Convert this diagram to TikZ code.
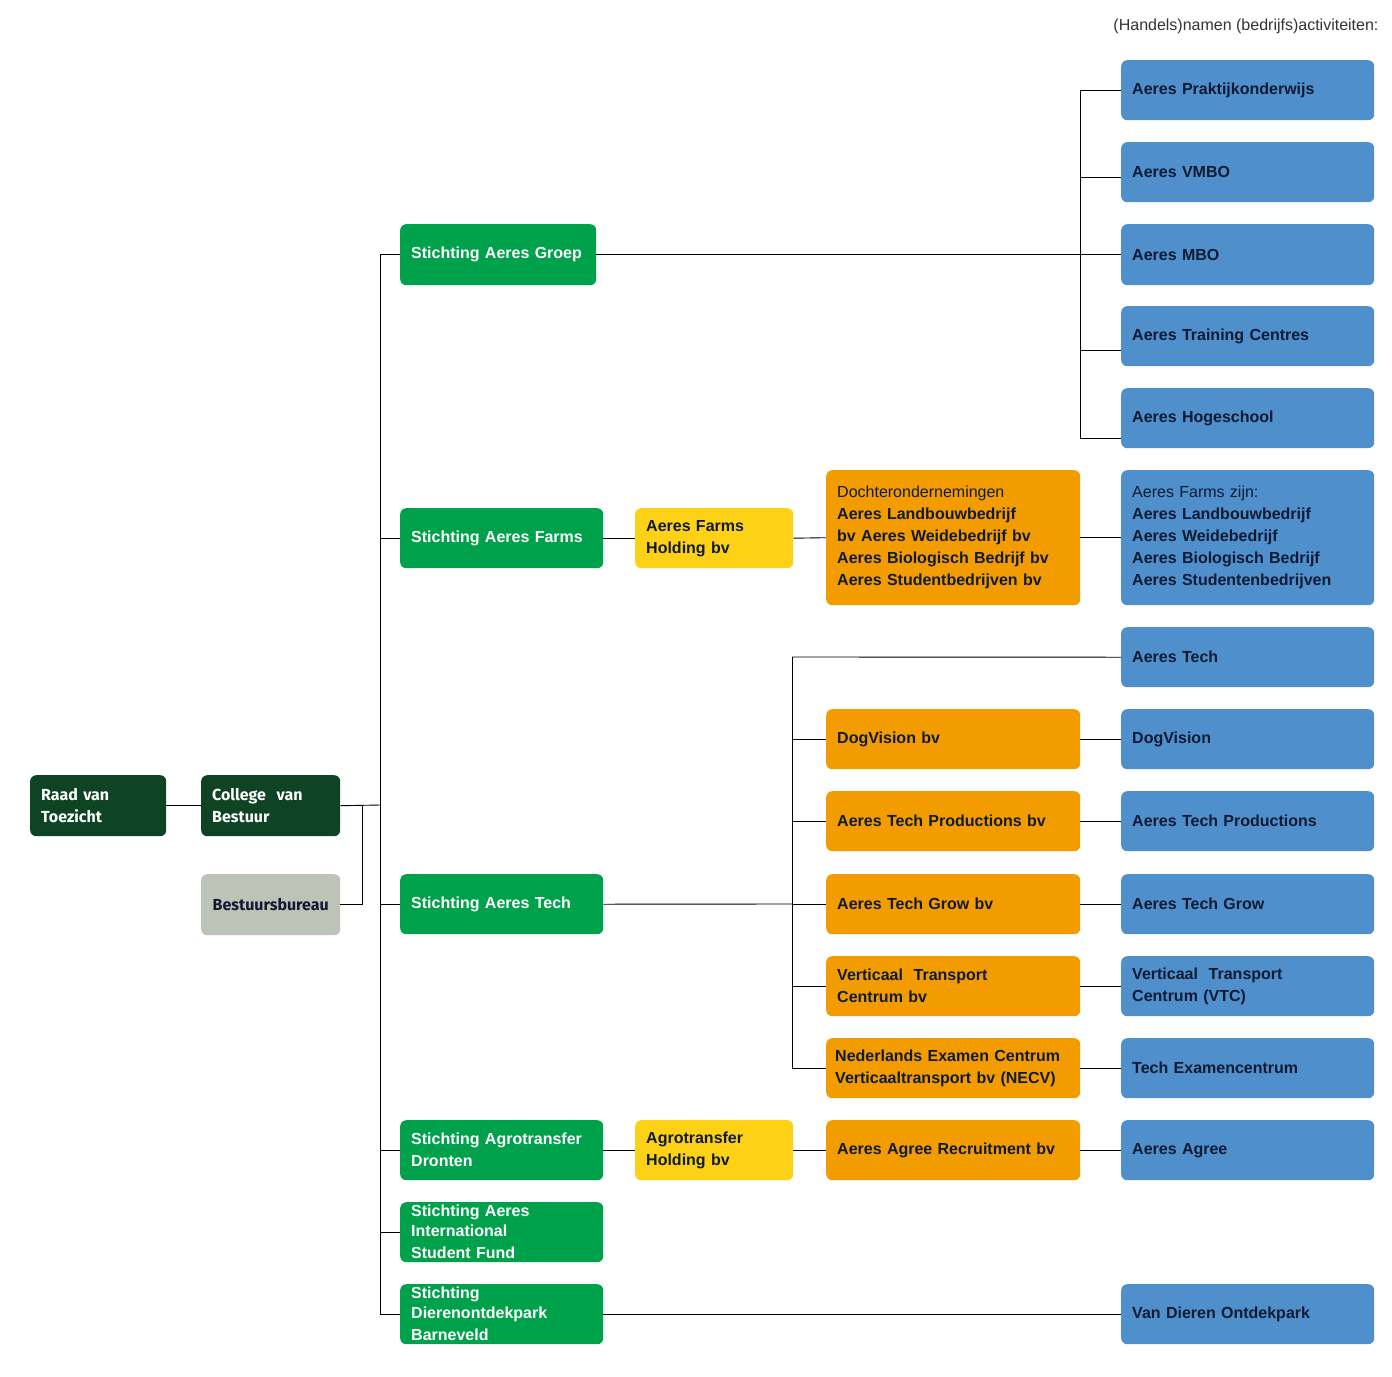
\documentclass[tikz,border=0pt]{standalone}
\usepackage{fontspec}
\setmainfont{Liberation Sans}
\newfontfamily\gfont{Fira Sans}
\definecolor{dg}{HTML}{0E4424}
\definecolor{gr}{HTML}{00A14B}
\definecolor{ye}{HTML}{FCD116}
\definecolor{or}{HTML}{F39C00}
\definecolor{bl}{HTML}{4F8FCB}
\definecolor{gy}{HTML}{BDC3B7}
\definecolor{tx}{HTML}{111A33}
\newcommand{\bx}[7]{%
 \pgfmathsetmacro{\ww}{#5-#3}\pgfmathsetmacro{\hh}{#6-#4}\pgfmathsetmacro{\tw}{#5-#3-22}%
 \node[box,fill=#2,minimum width=\ww pt,minimum height=\hh pt,text width=\tw pt,anchor=north west] (#1) at (#3,#4) {#7};}
\begin{document}
\begin{tikzpicture}[x=1pt,y=-1pt,
 box/.style={rounded corners=6pt,inner xsep=11pt,inner ysep=0pt,align=left,font=\fontsize{16}{22}\selectfont\bfseries,text=tx},
 ln/.style={draw=black,line width=0.9pt}]
\useasboundingbox (0,0) rectangle (1392,1376);
\node[anchor=east,font=\fontsize{16}{18}\selectfont,text=black!80] (hdr) at (1382,26) {(Handels)namen (bedrijfs)activiteiten:};
% left
\bx{raad}{dg}{30}{775}{166}{836}{\gfont\color{white}Raad van\\Toezicht}
\bx{cvb}{dg}{201}{775}{340}{836}{\gfont\color{white}College\ \ van\\Bestuur}
\node[box,fill=gy,minimum width=139pt,minimum height=61pt,anchor=north west,inner xsep=4pt] (bb) at (201,874) {\gfont Bestuursbureau};
% green
\bx{sg}{gr}{400}{224}{596}{285}{\color{white}Stichting Aeres Groep}
\bx{sf}{gr}{400}{508}{603}{568}{\color{white}Stichting Aeres Farms}
\bx{st}{gr}{400}{874}{603}{934}{\color{white}Stichting Aeres Tech}
\bx{sa}{gr}{400}{1120}{603}{1180}{\color{white}Stichting Agrotransfer\\Dronten}
\bx{si}{gr}{400}{1202}{603}{1262}{\fontsize{16}{20}\selectfont\color{white}Stichting Aeres\\International\\Student Fund}
\bx{sd}{gr}{400}{1284}{603}{1344}{\fontsize{16}{20}\selectfont\color{white}Stichting\\Dierenontdekpark\\Barneveld}
% yellow
\bx{yf}{ye}{635}{508}{793}{568}{Aeres Farms\\Holding bv}
\bx{ya}{ye}{635}{1120}{793}{1180}{Agrotransfer\\Holding bv}
% orange
\bx{od}{or}{826}{470}{1080}{605}{{\mdseries Dochterondernemingen}\\Aeres Landbouwbedrijf\\bv Aeres Weidebedrijf bv\\Aeres Biologisch Bedrijf bv\\Aeres Studentbedrijven bv}
\bx{odv}{or}{826}{709}{1080}{769}{DogVision bv}
\bx{otp}{or}{826}{791}{1080}{851}{Aeres Tech Productions bv}
\bx{otg}{or}{826}{874}{1080}{934}{Aeres Tech Grow bv}
\bx{ovt}{or}{826}{956}{1080}{1016}{Verticaal\ \ Transport\\Centrum bv}
\bx{one}{or}{826}{1038}{1080}{1098}{\hspace*{-2pt}Nederlands Examen Centrum\\\hspace*{-2pt}Verticaaltransport bv (NECV)}
\bx{oag}{or}{826}{1120}{1080}{1180}{Aeres Agree Recruitment bv}
% blue
\bx{b1}{bl}{1121}{60}{1374}{120}{Aeres Praktijkonderwijs}
\bx{b2}{bl}{1121}{142}{1374}{202}{Aeres VMBO}
\bx{b3}{bl}{1121}{224}{1374}{285}{Aeres MBO}
\bx{b4}{bl}{1121}{306}{1374}{366}{Aeres Training Centres}
\bx{b5}{bl}{1121}{388}{1374}{448}{Aeres Hogeschool}
\bx{bf}{bl}{1121}{470}{1374}{605}{{\mdseries Aeres Farms zijn:}\\Aeres Landbouwbedrijf\\Aeres Weidebedrijf\\Aeres Biologisch Bedrijf\\Aeres Studentenbedrijven}
\bx{bt}{bl}{1121}{627}{1374}{687}{Aeres Tech}
\bx{bdv}{bl}{1121}{709}{1374}{769}{DogVision}
\bx{btp}{bl}{1121}{791}{1374}{851}{Aeres Tech Productions}
\bx{btg}{bl}{1121}{874}{1374}{934}{Aeres Tech Grow}
\bx{bvt}{bl}{1121}{956}{1374}{1016}{Verticaal\ \ Transport\\Centrum (VTC)}
\bx{bex}{bl}{1121}{1038}{1374}{1098}{Tech Examencentrum}
\bx{bag}{bl}{1121}{1120}{1374}{1180}{Aeres Agree}
\bx{bvd}{bl}{1121}{1284}{1374}{1344}{Van Dieren Ontdekpark}
% connectors
\coordinate (t0) at (380,805);
\draw[ln] (raad.east) -- (cvb.west);
\draw[ln] (cvb.east) -- (t0);
\draw[ln] (bb.east) -| (362,805);
\draw[ln] (380,255) -- (380,1314);
\foreach \n in {sg,sf,st,sa,sd}{\draw[ln] (\n.west) -- (\n.west -| t0);}
\draw[ln] (si.west) -- (si.west -| t0);
\draw[ln] (sg.east) -- (b3.west);
\draw[ln] (1080,90) -- (1080,438);
\foreach \y/\n in {90/b1,177/b2,350/b4,438/b5}{\draw[ln] (1080,\y) -- (1121,\y);}
\draw[ln] (sf.east) -- (yf.west);
\draw[ln] (yf.east) -- (od.west);
\draw[ln] (od.east) -- (bf.west);
\draw[ln] (st.east) -- (792,904);
\draw[ln] (792,657) -- (792,1068);
\draw[ln] (792,657) -- (bt.west);
\foreach \o/\b in {odv/bdv,otp/btp,otg/btg,ovt/bvt,one/bex}{
 \draw[ln] (\o.west) -- (\o.west -| 792,0);
 \draw[ln] (\o.east) -- (\b.west);}
\draw[ln] (sa.east) -- (ya.west);
\draw[ln] (ya.east) -- (oag.west);
\draw[ln] (oag.east) -- (bag.west);
\draw[ln] (sd.east) -- (bvd.west);
\end{tikzpicture}
\end{document}
